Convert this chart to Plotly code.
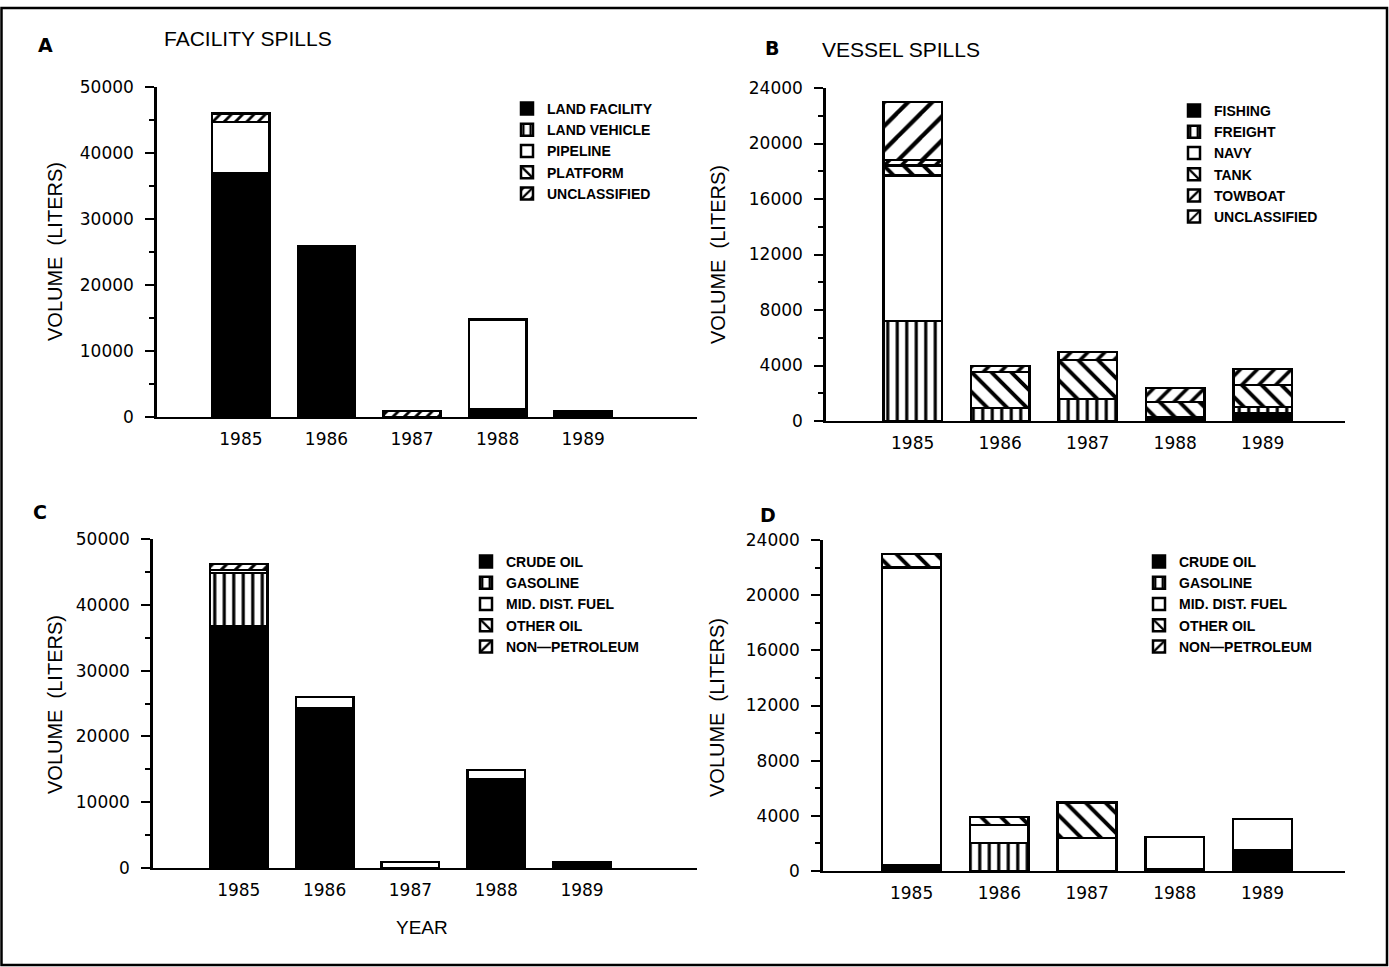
import plotly.graph_objects as go

W, H = 1389, 967

years = ["1985", "1986", "1987", "1988", "1989"]

# Panel A - facility spills by source
fac_land_facility = [36900, 25900, 0, 1200, 800]
fac_land_vehicle = [0, 0, 0, 0, 0]
fac_pipeline = [7800, 0, 0, 13600, 0]
fac_platform = [0, 0, 0, 0, 0]
fac_unclassified = [1300, 0, 900, 0, 0]

# Panel B - vessel spills by vessel type
ves_fishing = [0, 0, 0, 150, 550]
ves_freight = [7200, 950, 1600, 150, 450]
ves_navy = [10500, 0, 0, 0, 0]
ves_tank = [700, 2580, 2800, 1070, 1600]
ves_towboat = [400, 430, 570, 1010, 1150]
ves_unclassified = [4200, 0, 0, 0, 0]

# Panel C - facility spills by product
facp_crude = [36800, 24300, 0, 13500, 800]
facp_gasoline = [8000, 0, 0, 0, 0]
facp_mid = [500, 1700, 900, 1400, 0]
facp_other = [0, 0, 0, 0, 0]
facp_nonpet = [900, 0, 0, 0, 0]

# Panel D - vessel spills by product
vesp_crude = [400, 0, 0, 100, 1500]
vesp_gasoline = [0, 2030, 0, 0, 0]
vesp_mid = [21600, 1310, 2400, 2350, 2270]
vesp_other = [1000, 580, 2550, 0, 0]
vesp_nonpet = [0, 0, 0, 0, 0]


def fx(px):
    return px / W


def fy(py):
    return 1 - py / H


fig = go.Figure()


def add_bar(name, vals, xa, ya, leg, kind, size=10, solidity=0.3):
    marker = dict(line=dict(color="black", width=2.5))
    if kind == "solid":
        marker["color"] = "black"
    elif kind == "white":
        marker["color"] = "white"
    else:
        marker["color"] = "white"
        marker["pattern"] = dict(shape=kind, fgcolor="black", bgcolor="white",
                                 size=size, solidity=solidity, fgopacity=1)
    fig.add_trace(go.Bar(x=years, y=vals, name=name, xaxis=xa, yaxis=ya,
                         legend=leg, marker=marker, hoverinfo="skip"))


# A
add_bar("LAND FACILITY", fac_land_facility, "x", "y", "legend", "solid")
add_bar("LAND VEHICLE", fac_land_vehicle, "x", "y", "legend", "|", 9, 0.33)
add_bar("PIPELINE", fac_pipeline, "x", "y", "legend", "white")
add_bar("PLATFORM", fac_platform, "x", "y", "legend", "\\", 10, 0.3)
add_bar("UNCLASSIFIED", fac_unclassified, "x", "y", "legend", "/", 8, 0.35)
# B
add_bar("FISHING", ves_fishing, "x2", "y2", "legend2", "solid")
add_bar("FREIGHT", ves_freight, "x2", "y2", "legend2", "|", 9.5, 0.33)
add_bar("NAVY", ves_navy, "x2", "y2", "legend2", "white")
add_bar("TANK", ves_tank, "x2", "y2", "legend2", "\\", 14, 0.28)
add_bar("TOWBOAT", ves_towboat, "x2", "y2", "legend2", "/", 12, 0.3)
add_bar("UNCLASSIFIED", ves_unclassified, "x2", "y2", "legend2", "/", 17, 0.25)
# C
add_bar("CRUDE OIL", facp_crude, "x3", "y3", "legend3", "solid")
add_bar("GASOLINE", facp_gasoline, "x3", "y3", "legend3", "|", 9.5, 0.33)
add_bar("MID. DIST. FUEL", facp_mid, "x3", "y3", "legend3", "white")
add_bar("OTHER OIL", facp_other, "x3", "y3", "legend3", "\\", 14, 0.28)
add_bar("NON\u2014PETROLEUM", facp_nonpet, "x3", "y3", "legend3", "/", 10, 0.3)
# D
add_bar("CRUDE OIL", vesp_crude, "x4", "y4", "legend4", "solid")
add_bar("GASOLINE", vesp_gasoline, "x4", "y4", "legend4", "|", 9.5, 0.33)
add_bar("MID. DIST. FUEL", vesp_mid, "x4", "y4", "legend4", "white")
add_bar("OTHER OIL", vesp_other, "x4", "y4", "legend4", "\\", 14, 0.28)
add_bar("NON\u2014PETROLEUM", vesp_nonpet, "x4", "y4", "legend4", "/", 10, 0.3)

tick_font = dict(family="DejaVu Sans", size=17, color="black")

panels = [
    ("xaxis", "yaxis", 157, 697, 87, 417, [-0.98, 5.33], 50000, 10000),
    ("xaxis2", "yaxis2", 826, 1345, 88, 421, [-0.99, 4.94], 24000, 4000),
    ("xaxis3", "yaxis3", 153, 697, 539, 868, [-1.0, 5.34], 50000, 10000),
    ("xaxis4", "yaxis4", 823, 1345, 540, 871, [-1.01, 4.94], 24000, 4000),
]

layout = dict(
    width=W, height=H,
    margin=dict(l=0, r=0, t=0, b=0, pad=0, autoexpand=False),
    paper_bgcolor="white", plot_bgcolor="white",
    barmode="stack", bargap=0.33,
    showlegend=True,
)

for i, (xk, yk, xl, xr, yt, yb, xr_, ymax, dt) in enumerate(panels):
    n = i + 1
    ysuffix = "" if n == 1 else str(n)
    layout[xk] = dict(
        domain=[fx(xl), fx(xr)], anchor="y" + ysuffix, range=xr_,
        type="category", showline=True, linecolor="black", linewidth=2,
        ticks="", showgrid=False, zeroline=False, tickfont=tick_font,
        ticklabelstandoff=6, fixedrange=True, automargin=False,
    )
    layout[yk] = dict(
        domain=[fy(yb), fy(yt)], anchor="x" + ysuffix, range=[0, ymax],
        dtick=dt, tick0=0, tickformat="d", showline=True, linecolor="black", linewidth=2.5,
        ticks="outside", ticklen=9, tickwidth=2, tickcolor="black",
        minor=dict(ticks="outside", ticklen=5, tickwidth=2, tickcolor="black",
                   dtick=dt / 2, showgrid=False),
        showgrid=False, zeroline=False, tickfont=tick_font,
        ticklabelstandoff=8, fixedrange=True, automargin=False,
    )
    layout["yaxis" + str(n + 4)] = dict(
        overlaying="y" + ysuffix, anchor="x" + ysuffix, range=[0, ymax],
        dtick=dt, tick0=0, showline=False, showticklabels=False,
        ticks="inside", ticklen=9, tickwidth=2, tickcolor="black",
        minor=dict(ticks="inside", ticklen=5, tickwidth=2, tickcolor="black",
                   dtick=dt / 2, showgrid=False),
        showgrid=False, zeroline=False, fixedrange=True, automargin=False,
    )

leg_font = dict(family="Liberation Sans", size=14, color="black", weight="bold")
legend_pos = [("legend", 507, 93), ("legend2", 1174, 95), ("legend3", 466, 546), ("legend4", 1139, 546)]
for key, lx, ly in legend_pos:
    layout[key] = dict(x=fx(lx), y=fy(ly), xanchor="left", yanchor="top",
                       bgcolor="rgba(0,0,0,0)", font=leg_font, traceorder="normal",
                       itemclick=False, itemdoubleclick=False, tracegroupgap=0)

fig.update_layout(**layout)

title_font = dict(family="Liberation Sans", size=21, color="black")
year_font = dict(family="Liberation Sans", size=19, color="black")
bold_font = dict(family="DejaVu Sans", size=19, color="black", weight="bold")
annotations = [
    dict(text="A", x=fx(45), y=fy(45), font=bold_font),
    dict(text="FACILITY SPILLS", x=fx(248), y=fy(38), font=title_font),
    dict(text="B", x=fx(772), y=fy(48), font=bold_font),
    dict(text="VESSEL SPILLS", x=fx(901), y=fy(50), font=title_font),
    dict(text="C", x=fx(40), y=fy(512), font=bold_font),
    dict(text="D", x=fx(768), y=fy(515), font=bold_font),
    dict(text="YEAR", x=fx(422), y=fy(927), font=year_font),
]
for cx, cy in [(55, 252), (718, 255), (55, 705), (717, 708)]:
    annotations.append(dict(text="VOLUME  (LITERS)", x=fx(cx), y=fy(cy), textangle=-90,
                            font=dict(family="Liberation Sans", size=20, color="black")))
for a in annotations:
    a.update(xref="paper", yref="paper", showarrow=False, xanchor="center", yanchor="middle")
fig.update_layout(annotations=annotations)

fig.add_shape(type="rect", xref="paper", yref="paper",
              x0=fx(1.5), x1=fx(1387), y0=fy(965), y1=fy(8),
              line=dict(color="black", width=2.5))

fig.write_html("out.html", config={"displayModeBar": False},
               post_script="document.body.style.margin='0';document.body.style.overflow='hidden';")
